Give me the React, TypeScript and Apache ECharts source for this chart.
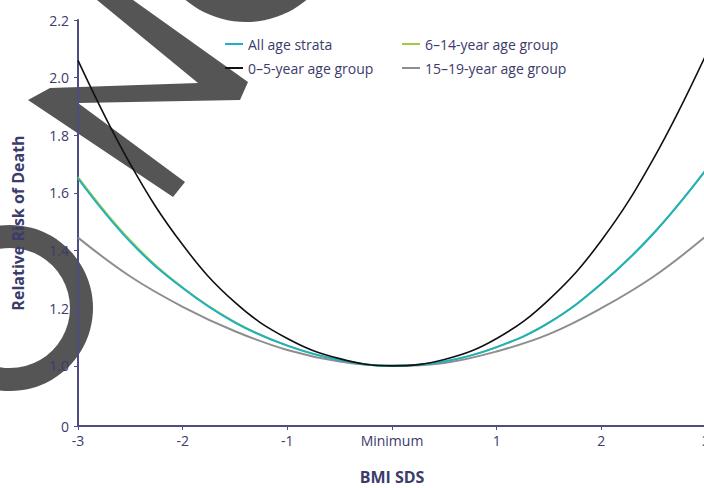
import React, { useEffect, useRef } from "react";
import * as echarts from "echarts";

// BMI SDS sample positions
const xValues = [-3, -2.5, -2, -1.5, -1, -0.5, 0, 0.5, 1, 1.5, 2, 2.5, 3];
// Relative risk of death
const allAgeStrata = [1.65, 1.43, 1.27, 1.15, 1.07, 1.02, 1.0, 1.015, 1.065, 1.15, 1.285, 1.46, 1.68];
const age0to5 = [2.06, 1.7, 1.42, 1.22, 1.095, 1.025, 1.0, 1.022, 1.095, 1.23, 1.435, 1.72, 2.08];
const age6to14 = [1.655, 1.435, 1.272, 1.152, 1.07, 1.02, 1.0, 1.015, 1.065, 1.15, 1.285, 1.46, 1.68];
const age15to19 = [1.445, 1.31, 1.205, 1.12, 1.055, 1.015, 1.0, 1.01, 1.05, 1.11, 1.2, 1.31, 1.45];

const xTickLabels = ["-3", "-2", "-1", "Minimum", "1", "2", "3"];
const yTickValues = [1.0, 1.2, 1.4, 1.6, 1.8, 2.0, 2.2];
const yZeroPosition = 0.7913; // broken axis: where "0" sits
const yZeroLabel = "0";

const seriesNames = ["All age strata", "0–5-year age group", "6–14-year age group", "15–19-year age group"];
const seriesColors = ["#1fb0c6", "#111111", "#9fcd3f", "#8e8e8e"];

const pairs = (ys: number[]) => xValues.map((x, i) => [x, ys[i]]);

export default function App() {
  const ref = useRef<HTMLDivElement>(null);
  useEffect(() => {
    if (!ref.current) return;
    const chart = echarts.init(ref.current, null, { renderer: "svg" });
    const navy = "#3b3b6c";
    const axisCol = "#4c4c86";
    const font = "'Open Sans', 'Noto Sans', sans-serif";
    const wm = "#555555";
    const yCustom = [yZeroPosition, ...yTickValues];
    chart.setOption({
      animation: false,
      backgroundColor: "#ffffff",
      textStyle: { fontFamily: font },
      graphic: [
        { type: "ring", z: -10, shape: { cx: 10, cy: 308, r: 83, r0: 60 }, style: { fill: wm } },
        { type: "ring", z: -10, shape: { cx: 246, cy: -72, r: 94, r0: 72 }, style: { fill: wm } },
        {
          type: "polygon",
          z: -10,
          shape: {
            points: [
              [97, 0], [133, 0], [248, 82], [240, 100], [78, 103], [185, 182], [173, 197], [28, 100], [50, 88], [198, 83],
            ],
          },
          style: { fill: wm },
        },
      ],
      grid: { left: 78, right: -2, top: 20, bottom: 62, containLabel: false, outerBoundsMode: "none" },
      legend: [
        {
          left: 220,
          top: 32,
          orient: "vertical",
          itemGap: 10,
          itemWidth: 18,
          itemHeight: 2,
          icon: "rect",
          data: [seriesNames[0], seriesNames[1]],
          textStyle: { color: navy, fontSize: 14, fontFamily: font },
        },
        {
          left: 397,
          top: 32,
          orient: "vertical",
          itemGap: 10,
          itemWidth: 18,
          itemHeight: 2,
          icon: "rect",
          data: [seriesNames[2], seriesNames[3]],
          textStyle: { color: navy, fontSize: 14, fontFamily: font },
        },
      ],
      xAxis: {
        type: "value",
        min: -3,
        max: 3,
        interval: 1,
        name: "BMI SDS",
        nameLocation: "middle",
        nameGap: 43,
        nameTextStyle: { color: navy, fontSize: 16, fontWeight: "bold", fontFamily: font },
        axisLine: { show: true, onZero: false, lineStyle: { color: axisCol, width: 2 } },
        axisTick: { show: true, length: 4, lineStyle: { color: axisCol } },
        axisLabel: {
          color: navy,
          fontSize: 14,
          margin: 7,
          fontFamily: font,
          formatter: (v: number) => xTickLabels[Math.round(v) + 3],
        },
        splitLine: { show: false },
      },
      yAxis: {
        type: "value",
        min: yZeroPosition,
        max: 2.2,
        name: "Relative Risk of Death",
        nameLocation: "middle",
        nameGap: 52,
        nameTextStyle: { color: navy, fontSize: 16, fontWeight: "bold", fontFamily: font },
        axisLine: { show: true, onZero: false, lineStyle: { color: axisCol, width: 2 } },
        axisTick: { show: true, length: 4, customValues: yCustom, lineStyle: { color: axisCol } },
        axisLabel: {
          color: navy,
          fontSize: 14,
          margin: 9,
          fontFamily: font,
          customValues: yCustom,
          formatter: (v: number) => (v < 0.9 ? yZeroLabel : v.toFixed(1)),
        },
        splitLine: { show: false },
      },
      series: [
        {
          name: seriesNames[2],
          type: "line",
          smooth: 0.4,
          showSymbol: false,
          data: pairs(age6to14),
          lineStyle: { color: seriesColors[2], width: 2 },
          itemStyle: { color: seriesColors[2] },
          z: 2,
        },
        {
          name: seriesNames[3],
          type: "line",
          smooth: 0.4,
          showSymbol: false,
          data: pairs(age15to19),
          lineStyle: { color: seriesColors[3], width: 2 },
          itemStyle: { color: seriesColors[3] },
          z: 3,
        },
        {
          name: seriesNames[0],
          type: "line",
          smooth: 0.4,
          showSymbol: false,
          data: pairs(allAgeStrata),
          lineStyle: { color: seriesColors[0], width: 2 },
          itemStyle: { color: seriesColors[0] },
          z: 4,
        },
        {
          name: seriesNames[1],
          type: "line",
          smooth: 0.4,
          showSymbol: false,
          data: pairs(age0to5),
          lineStyle: { color: seriesColors[1], width: 1.6 },
          itemStyle: { color: seriesColors[1] },
          z: 5,
        },
      ],
    });
    return () => chart.dispose();
  }, []);
  return (
    <div
      ref={ref}
      style={{ position: "absolute", left: 0, top: 0, width: 704, height: 488 }}
    />
  );
}
